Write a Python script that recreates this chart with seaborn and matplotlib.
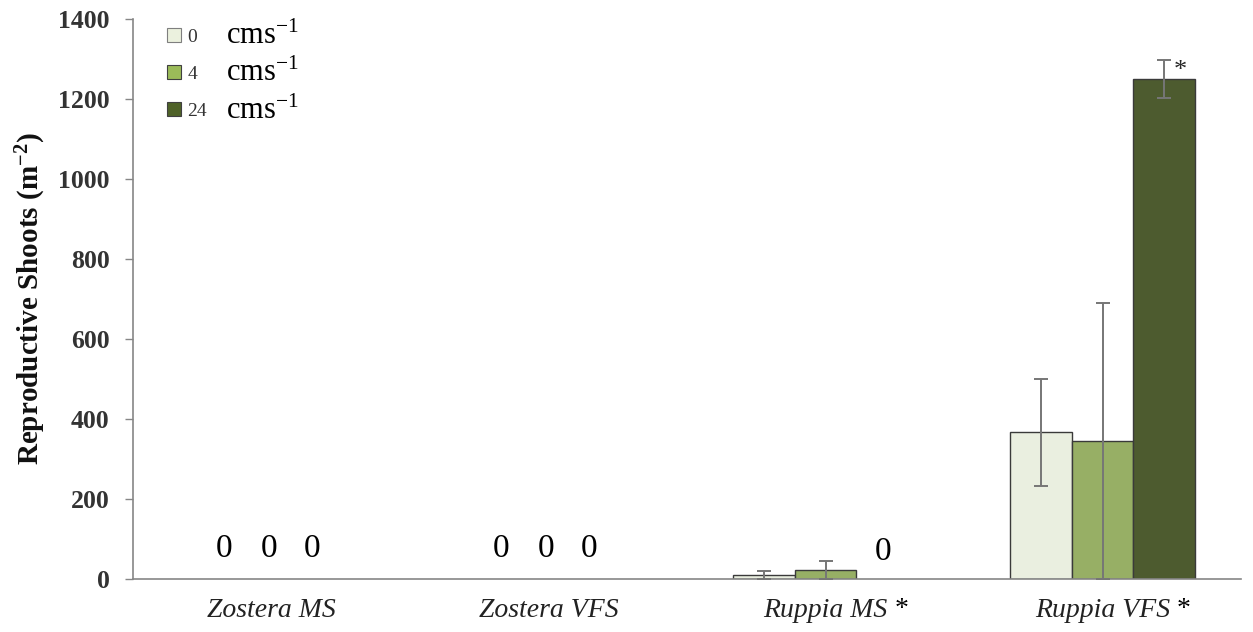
import numpy as np
import pandas as pd
import matplotlib
matplotlib.use("Agg")
import matplotlib.pyplot as plt
import seaborn as sns
from matplotlib.patches import Patch, Rectangle

# ---------------- data ----------------
sites = ["Zostera MS", "Zostera VFS", "Ruppia MS", "Ruppia VFS"]
speeds = ["0", "4", "24"]
shoots_0 = [0, 0, 10, 367]
shoots_4 = [0, 0, 22, 345]
shoots_24 = [0, 0, 0, 1250]
err_0 = [0, 0, 11, 134]
err_4 = [0, 0, 23, 345]
err_24 = [0, 0, 0, 48]
significant_sites = ["Ruppia MS", "Ruppia VFS"]
zero_label_sites = ["Zostera MS", "Zostera VFS"]

colors = ["#EBF1DE", "#9BBB59", "#4F6228"]

df = pd.DataFrame({
    "site": sites * 3,
    "speed": [s for s in speeds for _ in sites],
    "shoots": shoots_0 + shoots_4 + shoots_24,
})
errs = [err_0, err_4, err_24]
vals = [shoots_0, shoots_4, shoots_24]

# ---------------- style ----------------
sns.set_theme(style="white")
plt.rcParams["font.family"] = ["Liberation Serif", "DejaVu Serif"]
plt.rcParams["mathtext.fontset"] = "custom"
plt.rcParams["mathtext.rm"] = "Liberation Serif"
plt.rcParams["mathtext.it"] = "Liberation Serif:italic"
plt.rcParams["mathtext.bf"] = "Liberation Serif:bold"

fig = plt.figure(figsize=(12.53, 6.32), dpi=100)
ax = fig.add_axes([133 / 1253, 53 / 632, 1108 / 1253, 560 / 632])

GROUP_W = 0.667
sns.barplot(data=df, x="site", y="shoots", hue="speed", order=sites,
            hue_order=speeds, palette=colors, width=GROUP_W, errorbar=None,
            edgecolor="#3A3A3A", linewidth=1.0, ax=ax, legend=False)

# map bars -> (hue index, site index) via their geometry
bar_w = GROUP_W / len(speeds)
centers = {}
for p in ax.patches:
    if not isinstance(p, Rectangle):
        continue
    cx = p.get_x() + p.get_width() / 2
    si = int(round(cx))
    hi = int(round((cx - si) / bar_w)) + 1
    centers[(hi, si)] = cx
    if p.get_height() == 0:
        p.set_linewidth(0)

for hi in range(len(speeds)):
    xs, ys, es = [], [], []
    for si in range(len(sites)):
        if errs[hi][si] > 0 and (hi, si) in centers:
            xs.append(centers[(hi, si)])
            ys.append(vals[hi][si])
            es.append(errs[hi][si])
    if xs:
        ax.errorbar(xs, ys, yerr=es, fmt="none", ecolor="#767676",
                    elinewidth=1.4, capsize=5, capthick=1.4, zorder=5)

# zero labels
for site in zero_label_sites:
    i = sites.index(site)
    for off in (-0.17, -0.01, 0.145):
        ax.text(i + off, 55, "0", ha="center", va="baseline", fontsize=24,
                color="black")
rm = sites.index("Ruppia MS")
ax.text(centers.get((2, rm), rm + bar_w) - 0.015, 47, "0", ha="center",
        va="baseline", fontsize=24, color="black")

# significance asterisk above Ruppia VFS 24 cm/s bar
rv = sites.index("Ruppia VFS")
ax.annotate("*", xy=(centers.get((2, rv), rv + bar_w), shoots_24[rv]),
            xytext=(12, 6), textcoords="offset points", ha="center",
            va="center", fontsize=19)

# axes
ax.set_xlim(-0.5, 3.5)
ax.set_ylim(0, 1400)
ax.set_yticks(np.arange(0, 1401, 200))
ax.set_xticks(range(len(sites)))
ax.set_xticks(np.arange(-0.5, 3.6, 1.0), minor=True)
ax.set_xticklabels(sites, fontstyle="italic", fontsize=20, color="#222222")
ax.tick_params(axis="x", which="major", length=0, pad=14)
ax.tick_params(axis="x", which="minor", length=4, width=1, color="#868686")
ax.tick_params(axis="y", length=6, width=1, color="#868686", pad=11,
               labelsize=18.5, labelcolor="#333333", left=True)
for lab in ax.get_yticklabels():
    lab.set_fontweight("bold")
ax.set_xlabel("")
ax.set_ylabel(r"Reproductive Shoots (m$^{\mathbf{-2}}$)", fontsize=21,
              fontweight="bold", color="#111111", labelpad=7)
sns.despine(ax=ax)
for sp in ("left", "bottom"):
    ax.spines[sp].set_color("#868686")
    ax.spines[sp].set_linewidth(1.2)

# legend
handles = [Patch(facecolor=c, edgecolor="#7F7F7F" if i == 0 else "#404040",
                 linewidth=0.8) for i, c in enumerate(colors)]
leg = ax.legend(handles, speeds, loc="upper left",
                bbox_to_anchor=(0.031, 0.984), frameon=False, fontsize=14,
                handlelength=0.72, handleheight=0.72, handletextpad=0.3,
                labelspacing=1.0, borderaxespad=0, borderpad=0)
for t in leg.get_texts():
    t.set_color("#333333")

fig.canvas.draw()

# asterisks next to significant tick labels
for tl in ax.get_xticklabels():
    if tl.get_text() in significant_sites:
        ax.annotate("*", xy=(1, 1), xycoords=tl, xytext=(5, 1),
                    textcoords="offset points", ha="left", va="top",
                    fontsize=20, color="black", zorder=10)

for t in leg.get_texts():
    ax.annotate(r"cms$^{\mathrm{-1}}$", xy=(0, 0), xycoords=t,
                xytext=(28, -4), textcoords="offset points", ha="left",
                va="bottom", fontsize=22, color="black", zorder=10)

fig.savefig("out.png", dpi=100)
